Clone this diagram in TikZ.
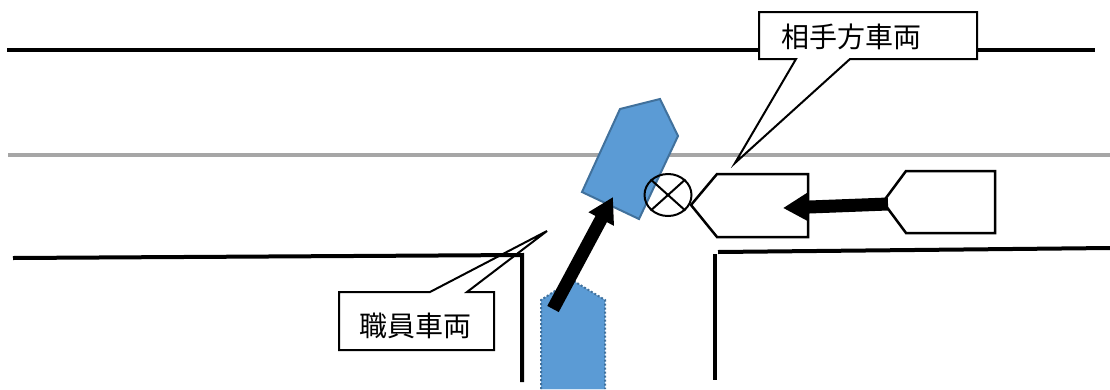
\documentclass[tikz,border=0pt]{standalone}
\usepackage{fontspec}
\usepackage{xcolor}
\usepackage{tikz}
\usetikzlibrary{arrows.meta, positioning, shapes.geometric}
\newfontfamily\cjk{Noto Sans CJK JP}
\definecolor{carblue}{HTML}{5B9BD5}
\definecolor{caredge}{HTML}{41719C}
\definecolor{roadgray}{HTML}{A6A6A6}

\begin{document}
\begin{tikzpicture}[x=1pt, y=-1pt,
    road/.style={line width=4pt, black},
    whitecar/.style={draw, fill=white, line width=2.5pt, line join=miter},
    bluecar/.style={draw=caredge, fill=carblue, line width=2pt},
    motion/.style={-{Triangle[length=25pt, width=27pt]}, line width=13pt},
    callout/.style={draw, fill=white, line width=2pt, line join=miter},
    label/.style={font=\cjk\fontsize{28}{30}\selectfont, inner sep=0pt}]
    \useasboundingbox (0,0) rectangle (1110,389);
    % roads
    \draw[road] (7,50) -- (1095,50);
    \draw[road, roadgray] (8,155) -- (1110,155);
    \draw[road] (715,254) -- (715,380);
    \draw[road] (718,252) -- (1110,248);
    % vehicles
    \draw[bluecar] (620,109) -- (660,99) -- (678,136) -- (639,219) -- (582,192) -- cycle;
    \fill[carblue] (541,389) -- (541,300) -- (572,281) -- (604,300) -- (604,389) -- cycle;
    \draw[bluecar, dotted] (541,389) -- (541,300) -- (572,280) -- (605,300) -- (605,389);
    \draw[whitecar] (691,205) -- (717,174) -- (808,174) -- (808,237) -- (717,237) -- cycle;
    \draw[whitecar] (883,202) -- (906,171) -- (995,171) -- (995,233) -- (906,233) -- cycle;
    % collision mark
    \node[ellipse, draw, line width=2pt, minimum width=47pt, minimum height=42pt, inner sep=0pt] (crash) at (668,195) {};
    \draw[line width=2pt] (crash.north west) -- (crash.south east);
    \draw[line width=2pt] (crash.north east) -- (crash.south west);
    % movement
    \coordinate (stafftail) at (553,309);
    \coordinate (stafftip) at (613,197);
    \coordinate (othertail) at (888,204);
    \coordinate (othertip) at (783,208);
    \draw[motion] (stafftail) -- (stafftip);
    \draw[motion] (othertail) -- (othertip);
    % callouts
    \draw[callout] (339,292) -- (430,292) -- (547,231) -- (467,292) -- (494,292) -- (494,350) -- (339,350) -- cycle;
    \draw[callout] (759,12) -- (977,12) -- (977,59) -- (850,59) -- (735,163) -- (796,59) -- (759,59) -- cycle;
    \draw[road] (13,258) -- (522,255) -- (522,382);
    \node[label] (staff) at (415,326) {職員車両};
    \node[label] (other) at (851,37) {相手方車両};
\end{tikzpicture}
\end{document}
